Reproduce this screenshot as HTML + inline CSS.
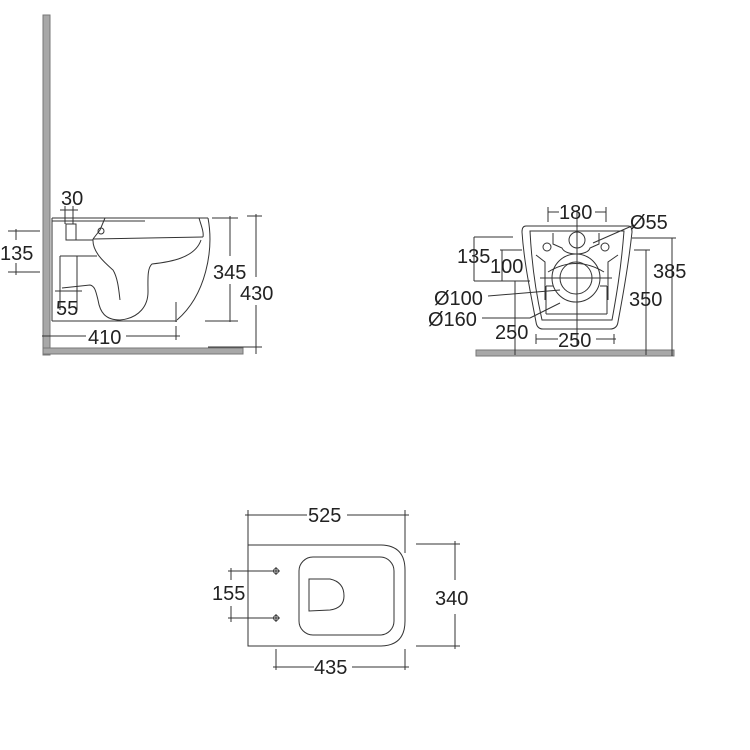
<!DOCTYPE html>
<html><head><meta charset="utf-8"><style>
html,body{margin:0;padding:0;background:#fff;}
svg{display:block;}
text{font-family:"Liberation Sans",Arial,sans-serif;font-size:20px;fill:#222;}
</style></head><body>
<svg width="750" height="750" viewBox="0 0 750 750" xmlns="http://www.w3.org/2000/svg">
<g fill="none" stroke="#333" stroke-width="1">
<!-- SIDE VIEW -->
<rect x="43" y="15" width="7" height="340" fill="#a8a8a8" stroke="#777"/>
<rect x="43" y="348" width="200" height="6" fill="#a8a8a8" stroke="#777"/>
<line x1="52" y1="218" x2="52" y2="321"/>
<line x1="52" y1="218" x2="208" y2="218"/>
<line x1="52" y1="221" x2="145" y2="221"/>
<line x1="52" y1="321" x2="177" y2="321"/>
<path d="M208,218 C214,250 206,295 177,320"/>
<path d="M199,218 C201,225 204,232 203,237"/>
<line x1="93" y1="239" x2="203" y2="237"/>
<path d="M105,218 L100,230 L93,239"/>
<circle cx="101" cy="231" r="3"/>
<rect x="66" y="224" width="10" height="16"/>
<line x1="76" y1="240" x2="93" y2="240"/>
<path d="M93,239 C92,252 105,263 113,270 C118,278 119,292 120,300"/>
<path d="M201,240 C195,258 170,262 152,264 C147,268 148,280 148,292 C148,305 140,318 120,320 C105,320 100,312 98,300 C96,292 95,286 90,285 L62,288"/>
<line x1="60" y1="256" x2="97" y2="256"/>
<line x1="60" y1="256" x2="60" y2="310"/>
<line x1="77" y1="256" x2="77" y2="310"/>
<line x1="55" y1="291" x2="82" y2="291"/>
<line x1="176" y1="302" x2="176" y2="322"/>
<!-- dims side -->
<line x1="65" y1="206" x2="65" y2="224"/><line x1="73" y1="206" x2="73" y2="224"/>
<line x1="60" y1="210" x2="78" y2="210"/>
<line x1="16" y1="229" x2="16" y2="240"/><line x1="16" y1="263" x2="16" y2="275"/>
<line x1="8" y1="231" x2="40" y2="231"/><line x1="8" y1="272" x2="40" y2="272"/>
<line x1="42" y1="336" x2="86" y2="336"/><line x1="126" y1="336" x2="180" y2="336"/>
<line x1="176" y1="326" x2="176" y2="340"/>
<line x1="230" y1="216" x2="230" y2="256"/><line x1="230" y1="284" x2="230" y2="322"/>
<line x1="212" y1="218" x2="238" y2="218"/><line x1="205" y1="321" x2="238" y2="321"/>
<line x1="256" y1="214" x2="256" y2="277"/><line x1="256" y1="305" x2="256" y2="354"/>
<line x1="247" y1="216" x2="262" y2="216"/><line x1="208" y1="347" x2="262" y2="347"/>
<!-- FRONT VIEW -->
<rect x="476" y="350" width="198" height="6" fill="#a8a8a8" stroke="#777"/>
<path d="M526,226 L628,226 Q632,226 632,232 C628,270 622,300 618,322 Q617,329 610,329 L543,329 Q537,329 536,322 C530,290 524,262 522,232 Q522,226 526,226 Z"/>
<path d="M530,231 L624,231 C621,270 616,298 612,320 L542,320 C537,298 532,270 530,231 Z"/>
<path d="M553,233 L553,244 L562,248 C565,256 588,256 590,248 L599,244 L599,233"/>
<circle cx="577" cy="240" r="8"/>
<circle cx="547" cy="247" r="4"/><circle cx="605" cy="247" r="4"/>
<path d="M536,255 L545,262 L545,300 M618,255 L608,262 L608,300"/>
<circle cx="576" cy="278" r="24"/>
<circle cx="576" cy="278" r="16"/>
<path d="M548,272 Q576,255 604,272"/>
<line x1="546" y1="286" x2="553" y2="286"/><line x1="600" y1="286" x2="607" y2="286"/>
<line x1="546" y1="286" x2="546" y2="314"/><line x1="607" y1="286" x2="607" y2="314"/>
<line x1="546" y1="314" x2="607" y2="314"/>
<line x1="577" y1="210" x2="577" y2="345"/>
<line x1="540" y1="278" x2="612" y2="278"/>
<!-- dims front -->
<line x1="548" y1="212" x2="559" y2="212"/><line x1="595" y1="212" x2="606" y2="212"/>
<line x1="548" y1="207" x2="548" y2="222"/><line x1="606" y1="207" x2="606" y2="222"/>
<line x1="593" y1="243" x2="634" y2="225"/>
<line x1="474" y1="237" x2="474" y2="281"/><line x1="474" y1="237" x2="513" y2="237"/>
<line x1="502" y1="250" x2="502" y2="281"/><line x1="500" y1="250" x2="522" y2="250"/>
<line x1="474" y1="281" x2="530" y2="281"/>
<line x1="515" y1="281" x2="515" y2="355"/>
<line x1="488" y1="296" x2="560" y2="290"/>
<line x1="482" y1="318" x2="530" y2="318"/><line x1="530" y1="318" x2="560" y2="303"/>
<line x1="536" y1="339" x2="558" y2="339"/><line x1="596" y1="339" x2="616" y2="339"/>
<line x1="536" y1="334" x2="536" y2="344"/><line x1="614" y1="334" x2="614" y2="344"/>
<line x1="646" y1="250" x2="646" y2="355"/><line x1="634" y1="250" x2="650" y2="250"/>
<line x1="672" y1="238" x2="672" y2="356"/><line x1="632" y1="238" x2="676" y2="238"/>
<!-- PLAN VIEW -->
<path d="M248,545 L380,545 Q405,545 405,570 L405,621 Q405,646 380,646 L248,646 Z"/>
<rect x="299" y="557" width="95" height="78" rx="14"/>
<path d="M309,579 L330,579 Q344,582 344,596 Q344,608 330,610 L309,611 Z"/>
<line x1="245" y1="515" x2="307" y2="515"/><line x1="347" y1="515" x2="409" y2="515"/>
<line x1="248" y1="510" x2="248" y2="545"/><line x1="405" y1="510" x2="405" y2="553"/>
<line x1="416" y1="544" x2="460" y2="544"/><line x1="416" y1="646" x2="460" y2="646"/>
<line x1="455" y1="541" x2="455" y2="580"/><line x1="455" y1="614" x2="455" y2="649"/>
<line x1="276" y1="649" x2="276" y2="670"/><line x1="405" y1="649" x2="405" y2="670"/>
<line x1="273" y1="667" x2="314" y2="667"/><line x1="352" y1="667" x2="409" y2="667"/>
<line x1="231" y1="568" x2="231" y2="580"/><line x1="231" y1="606" x2="231" y2="622"/>
<line x1="228" y1="571" x2="272" y2="571"/><line x1="228" y1="618" x2="272" y2="618"/>
<circle cx="276" cy="571" r="2.5"/><circle cx="276" cy="618" r="2.5"/>
<line x1="272" y1="571" x2="280" y2="571"/><line x1="276" y1="567" x2="276" y2="575"/>
<line x1="272" y1="618" x2="280" y2="618"/><line x1="276" y1="614" x2="276" y2="622"/>
</g>
<text x="61" y="205">30</text>
<text x="0" y="260">135</text>
<text x="56" y="315">55</text>
<text x="88" y="344">410</text>
<text x="213" y="279">345</text>
<text x="240" y="300">430</text>
<text x="559" y="219">180</text>
<text x="630" y="229">Ø55</text>
<text x="457" y="263">135</text>
<text x="490" y="273">100</text>
<text x="434" y="305">Ø100</text>
<text x="428" y="326">Ø160</text>
<text x="495" y="339">250</text>
<text x="558" y="347">250</text>
<text x="653" y="278">385</text>
<text x="629" y="306">350</text>
<text x="308" y="522">525</text>
<text x="212" y="600">155</text>
<text x="435" y="605">340</text>
<text x="314" y="674">435</text>
</svg>
</body></html>
